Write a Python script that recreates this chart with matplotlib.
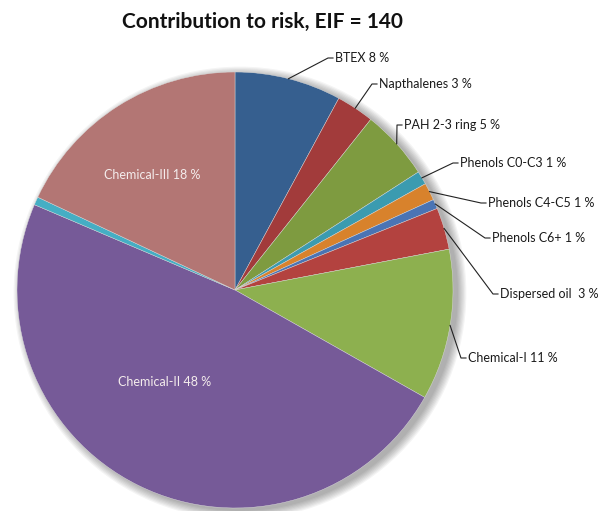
import matplotlib
matplotlib.use("Agg")
import matplotlib.pyplot as plt
from matplotlib.patches import Circle
import numpy as np

# slice shares, clockwise from 12 o'clock
valores = [7.9, 2.8, 5.2, 1.0, 1.3, 0.7, 3.1, 11.2, 48.2, 0.6, 18.0]
rotulos = ["BTEX 8 %", "Napthalenes 3 %", "PAH 2-3 ring 5 %", "Phenols C0-C3 1 %",
           "Phenols C4-C5 1 %", "Phenols C6+ 1 %", "Dispersed oil  3 %",
           "Chemical-I 11 %", "Chemical-II 48 %", "", "Chemical-III 18 %"]
cores = ["#365f8f", "#a23b3b", "#7e9b40", "#3b9bb0", "#d8822c", "#4a74b4",
         "#b3423f", "#8db04f", "#765a98", "#45aec4", "#b37674"]

W, H = 611, 511
# label anchors in pixel coords (x, y from top); None -> no label
pos_rotulo = [(335, 58), (379, 84), (404, 125), (460, 163), (488, 203),
              (492, 238), (500, 294), (468, 358), (165, 382), None, (152, 175)]
dentro = [False] * 8 + [True, False, True]

fig = plt.figure(figsize=(W / 100, H / 100), dpi=100)
ax = fig.add_axes([0, 0, 1, 1])

cx, cy, r = 235, H - 290, 218

# sombra suave a direita
for i in range(8):
    ax.add_patch(Circle((cx + 5, cy - 3), r + 1.2 * i, color="black",
                        alpha=0.045, lw=0, zorder=0))

wedges, _ = ax.pie(valores, colors=cores, startangle=90, counterclock=False,
                   center=(cx, cy), radius=r, frame=True,
                   wedgeprops=dict(edgecolor="#dddddd", linewidth=0.3))
for w in wedges:
    w.set_zorder(2)
ax.set_xlim(0, W)
ax.set_ylim(0, H)
ax.set_aspect("equal")
ax.axis("off")

fonte = "Lato"
for w, txt, p, inn in zip(wedges, rotulos, pos_rotulo, dentro):
    if p is None or not txt:
        continue
    x, y = p[0], H - p[1]
    if inn:
        ax.text(x, y, txt, ha="center", va="center", color="#f4ecec",
                fontsize=9, family=fonte, zorder=5)
        continue
    ang = np.deg2rad((w.theta1 + w.theta2) / 2)
    ex, ey = cx + r * np.cos(ang), cy + r * np.sin(ang)
    ax.plot([ex, x - 7, x - 2], [ey, y, y], color="#222222", lw=0.8, zorder=4)
    ax.text(x, y, txt, ha="left", va="center", color="#1a1a1a",
            fontsize=9, family=fonte, zorder=5)

ax.text(262, H - 22, "Contribution to risk, EIF = 140", ha="center", va="center",
        fontsize=15, fontweight="bold", family=fonte, color="#111111")

fig.savefig("out.png", dpi=100)
